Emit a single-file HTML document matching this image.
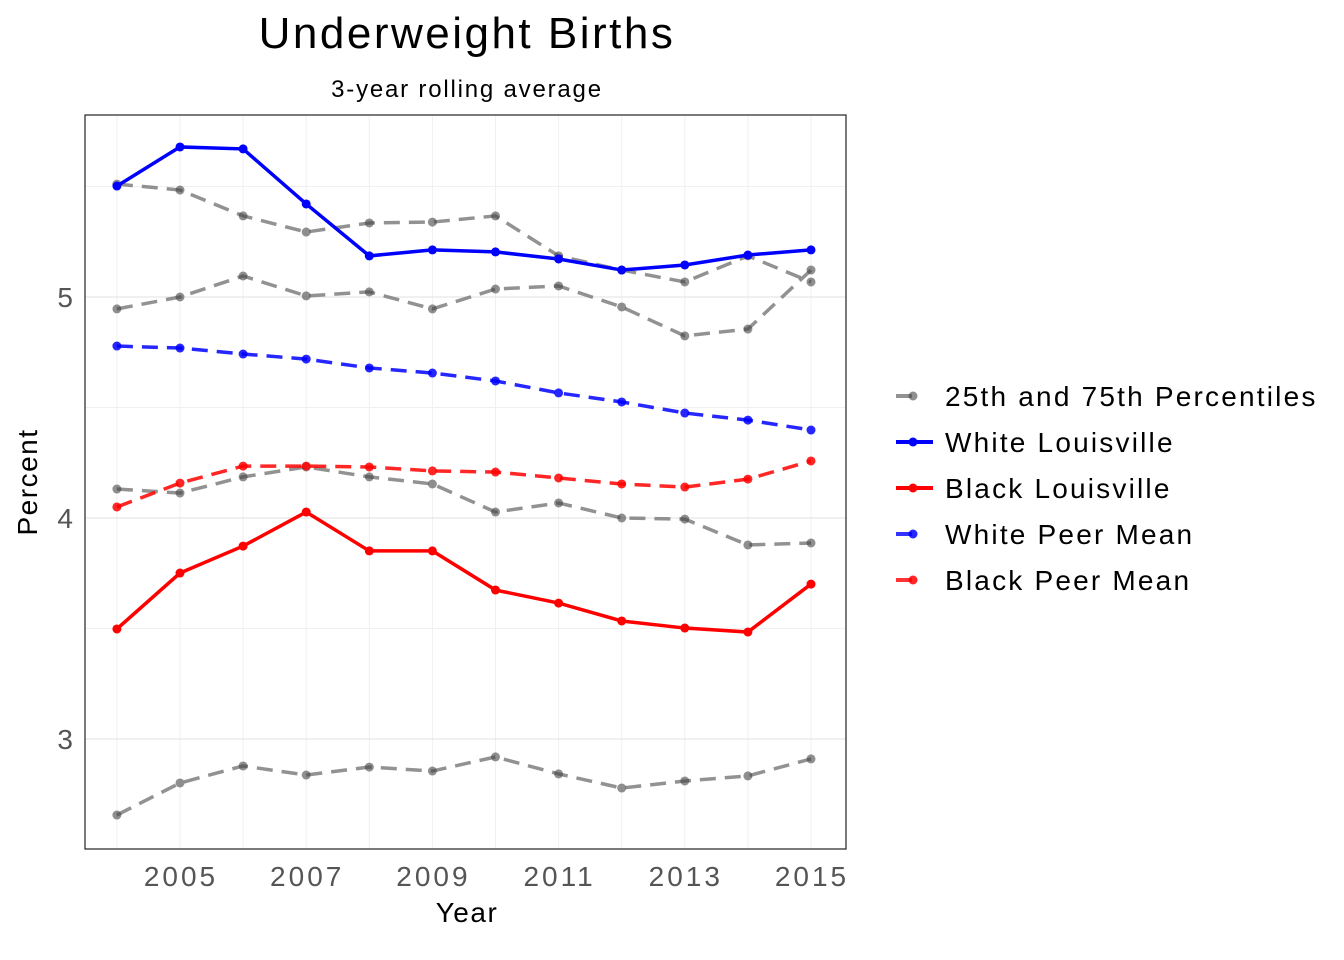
<!DOCTYPE html>
<html><head><meta charset="utf-8"><style>
body{margin:0;background:#fff;}
svg{display:block;font-family:"Liberation Sans",sans-serif;}
</style></head><body>
<svg id="chart" width="1344" height="960"></svg>
<script>
const years=[2004,2005,2006,2007,2008,2009,2010,2011,2012,2013,2014,2015];
const whiteLou=[5.502,5.679,5.670,5.421,5.186,5.213,5.204,5.172,5.122,5.145,5.190,5.213];
const blackLou=[3.498,3.751,3.873,4.027,3.851,3.851,3.674,3.615,3.534,3.502,3.484,3.701];
const whitePeer=[4.778,4.769,4.742,4.719,4.679,4.656,4.620,4.566,4.525,4.475,4.443,4.398];
const blackPeer=[4.050,4.158,4.235,4.235,4.231,4.213,4.208,4.181,4.154,4.140,4.176,4.258];
const white75=[5.511,5.484,5.367,5.294,5.335,5.339,5.367,5.186,5.122,5.068,5.186,5.068];
const white25=[4.946,5.0,5.095,5.005,5.023,4.946,5.036,5.050,4.955,4.824,4.855,5.122];
const black75=[4.131,4.113,4.186,4.231,4.186,4.154,4.027,4.068,4.0,3.995,3.878,3.887];
const black25=[2.656,2.801,2.878,2.837,2.873,2.855,2.919,2.842,2.778,2.810,2.833,2.910];
const yTicks=[3,4,5];
const xTicks=[2005,2007,2009,2011,2013,2015];

const NS="http://www.w3.org/2000/svg";
const svg=document.getElementById('chart');
const L=85,R=846,T=115,B=849;
const x=v=>180+(v-2005)*63.1;
const y=v=>297-(v-5)*221;
function mk(t,a,p){const e=document.createElementNS(NS,t);for(const k in a)e.setAttribute(k,a[k]);(p||svg).appendChild(e);return e;}

const grid=mk('g',{});


[3.5,4.5,5.5].forEach(v=>mk('line',{x1:L,x2:R,y1:y(v),y2:y(v),stroke:'#f0f0f0','stroke-width':1},grid));
years.forEach(v=>mk('line',{x1:x(v),x2:x(v),y1:T,y2:B,stroke:'#f0f0f0','stroke-width':1},grid));
yTicks.forEach(v=>mk('line',{x1:L,x2:R,y1:y(v),y2:y(v),stroke:'#e6e6e6','stroke-width':1.2},grid));

function series(vals,name,color,opacity,dash,width,ptColor,ptOp){
  const g=mk('g',{});
  
  
  const pts=vals.map((v,i)=>x(years[i])+','+y(v)).join(' ');
  const a={points:pts,fill:'none',stroke:color,'stroke-width':width,'stroke-opacity':opacity};
  if(dash)a['stroke-dasharray']=dash;
  mk('polyline',a,g);
  vals.forEach((v,i)=>{const c=mk('circle',{cx:x(years[i]),cy:y(v),r:4.5,fill:ptColor,'fill-opacity':ptOp},g);
    
    });
}
series(white75,'white-75th-percentile','#777',0.8,'16,9',3.5,'#444',0.6);
series(white25,'white-25th-percentile','#777',0.8,'16,9',3.5,'#444',0.6);
series(black75,'black-75th-percentile','#777',0.8,'16,9',3.5,'#444',0.6);
series(black25,'black-25th-percentile','#777',0.8,'16,9',3.5,'#444',0.6);
series(whitePeer,'white-peer-mean','#0000ff',0.85,'16,9',3.5,'#0000ff',0.85);
series(blackPeer,'black-peer-mean','#ff0000',0.85,'16,9',3.5,'#ff0000',0.85);
series(whiteLou,'white-louisville','#0000ff',1,null,3.5,'#0000ff',1);
series(blackLou,'black-louisville','#ff0000',1,null,3.5,'#ff0000',1);

const frame=mk('rect',{x:L,y:T,width:R-L,height:B-T,fill:'none',stroke:'#222','stroke-width':1.2});



yTicks.forEach(v=>{const t=mk('text',{x:73,y:y(v)+10,'text-anchor':'end','font-size':28,fill:'#555'});t.textContent=v;
  
  });
xTicks.forEach(v=>{const t=mk('text',{x:x(v)+1,y:886,'text-anchor':'middle','font-size':28,fill:'#555','letter-spacing':3});t.textContent=v;
  
  });
</script>
<svg style="position:absolute;left:0;top:0" width="1344" height="960">
<text x="467" y="48" text-anchor="middle" font-size="44" letter-spacing="2.5" fill="#000" font-family="Liberation Sans, sans-serif">Underweight Births</text>
<text x="467" y="97" text-anchor="middle" font-size="24" letter-spacing="1.8" fill="#000" font-family="Liberation Sans, sans-serif">3-year rolling average</text>
<text x="467" y="922" text-anchor="middle" font-size="28" letter-spacing="1.5" fill="#000" font-family="Liberation Sans, sans-serif">Year</text>
<text x="37" y="482" text-anchor="middle" font-size="28" letter-spacing="1.5" fill="#000" font-family="Liberation Sans, sans-serif" transform="rotate(-90 37 482)">Percent</text>
<g font-family="Liberation Sans, sans-serif" font-size="28" letter-spacing="2.2">
 <g><line x1="896" x2="912" y1="396" y2="396" stroke="#777" stroke-width="4" stroke-opacity="0.8"/><circle cx="913" cy="396" r="4.5" fill="#444" fill-opacity="0.6"/><text x="945" y="406">25th and 75th Percentiles</text></g>
 <g><line x1="896" x2="933" y1="442" y2="442" stroke="#0000ff" stroke-width="4"/><circle cx="913" cy="442" r="4.5" fill="#0000ff"/><text x="945" y="452">White Louisville</text></g>
 <g><line x1="896" x2="933" y1="488" y2="488" stroke="#ff0000" stroke-width="4"/><circle cx="913" cy="488" r="4.5" fill="#ff0000"/><text x="945" y="498">Black Louisville</text></g>
 <g><line x1="896" x2="912" y1="534" y2="534" stroke="#0000ff" stroke-width="4" stroke-opacity="0.8"/><circle cx="913" cy="534" r="4.5" fill="#0000ff" fill-opacity="0.85"/><text x="945" y="544">White Peer Mean</text></g>
 <g><line x1="896" x2="912" y1="580" y2="580" stroke="#ff0000" stroke-width="4" stroke-opacity="0.8"/><circle cx="913" cy="580" r="4.5" fill="#ff0000" fill-opacity="0.85"/><text x="945" y="590">Black Peer Mean</text></g>
</g>
</svg>
</body></html>
